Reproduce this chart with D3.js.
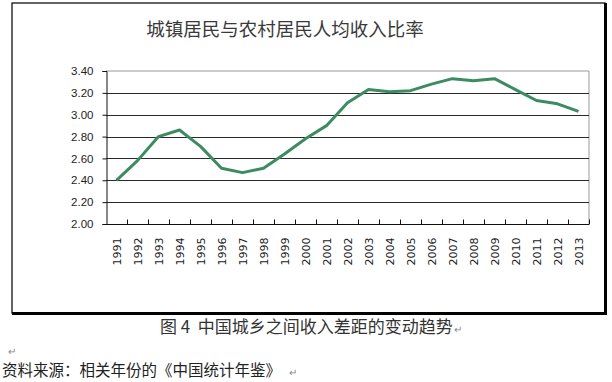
<!DOCTYPE html>
<html><head><meta charset="utf-8">
<script src="https://cdn.jsdelivr.net/npm/d3@7"></script>
<style>body{margin:0;background:#fff}svg{display:block}</style>
</head><body>
<script>
const years = ["1991","1992","1993","1994","1995","1996","1997","1998","1999","2000","2001","2002","2003","2004","2005","2006","2007","2008","2009","2010","2011","2012","2013"];
const ratio = [2.40,2.58,2.80,2.86,2.71,2.51,2.47,2.51,2.64,2.78,2.90,3.11,3.23,3.21,3.22,3.28,3.33,3.31,3.33,3.23,3.13,3.10,3.03];
const yTicks = [2.00,2.20,2.40,2.60,2.80,3.00,3.20,3.40];
const title = "城镇居民与农村居民人均收入比率";
const caption = "图 4  中国城乡之间收入差距的变动趋势";
const source = "资料来源：相关年份的《中国统计年鉴》";

const W = 612, H = 382;
const svg = d3.select("body").append("svg").attr("width", W).attr("height", H);
const cjk = "'Noto Sans CJK SC', sans-serif";

// outer frame
svg.append("rect").attr("x",12).attr("y",3).attr("width",593).attr("height",310)
  .attr("fill","#fff").attr("stroke","#111").attr("stroke-width",1.3);
svg.append("path").attr("d","M605.5,3 V313.5 H12").attr("fill","none").attr("stroke","#000").attr("stroke-width",3);

svg.append("text").attr("x",285).attr("y",36).attr("text-anchor","middle")
  .attr("font-family",cjk).attr("font-size",18.5).attr("fill","#3a3a3a").text(title);

const m = {l:106, r:589, t:71, b:224};
const x = d3.scaleBand().domain(years).range([m.l, m.r]);
const y = d3.scaleLinear().domain([2.0, 3.4]).range([m.b, m.t]);

// plot border (top/right gray)
svg.append("path").attr("d",`M${m.l},${m.t}H${m.r}V${m.b}`).attr("fill","none").attr("stroke","#999").attr("stroke-width",1);

// gridlines
svg.append("g").selectAll("line").data(yTicks.filter(d=>d>2 && d<3.4)).join("line")
  .attr("x1",m.l).attr("x2",m.r).attr("y1",d=>Math.round(y(d))+0.5).attr("y2",d=>Math.round(y(d))+0.5)
  .attr("stroke","#2a2a2a").attr("stroke-width",1);

// y axis
const ya = svg.append("g").attr("transform",`translate(${m.l+0.5},0)`)
  .call(d3.axisLeft(y).tickValues(yTicks).tickFormat(d3.format(".2f")).tickSize(4).tickPadding(9));
ya.select(".domain").attr("stroke","#111");
ya.selectAll(".tick line").attr("stroke","#111");
ya.selectAll("text").attr("font-family","'Liberation Sans', sans-serif").attr("font-size",11.5).attr("fill","#222");

// x axis with ticks at band boundaries
const xa = svg.append("g").attr("transform",`translate(0,${m.b+0.5})`);
xa.append("line").attr("x1",m.l).attr("x2",m.r).attr("stroke","#111");
xa.selectAll("line.tk").data(years).join("line").attr("class","tk")
  .attr("x1",d=>Math.round(x(d)+x.bandwidth())+0.5).attr("x2",d=>Math.round(x(d)+x.bandwidth())+0.5)
  .attr("y1",0).attr("y2",-5).attr("stroke","#111");
xa.selectAll("text").data(years).join("text")
  .attr("transform",d=>`translate(${x(d)+x.bandwidth()/2+4},${13}) rotate(-90)`)
  .attr("text-anchor","end").attr("font-family","'DejaVu Sans', sans-serif").attr("font-size",11).attr("fill","#222")
  .text(d=>d);

// line
const line = d3.line().x((d,i)=>x(years[i])+x.bandwidth()/2).y(d=>y(d));
svg.append("path").datum(ratio).attr("d",line).attr("fill","none")
  .attr("stroke","#3d8b63").attr("stroke-width",3).attr("stroke-linejoin","round");

// caption and source
const cap = svg.append("text").attr("x",160).attr("y",333).attr("font-family",cjk).attr("font-size",17).attr("fill","#333")
  .attr("xml:space","preserve").text(caption);
const capEnd = 160 + cap.node().getComputedTextLength();
svg.append("text").attr("x",capEnd+1).attr("y",333).attr("font-family",cjk).attr("font-size",10).attr("fill","#888").text("↵");
svg.append("text").attr("x",8).attr("y",355).attr("font-family",cjk).attr("font-size",10).attr("fill","#888").text("↵");
const src = svg.append("text").attr("x",2).attr("y",376).attr("font-family",cjk).attr("font-size",15.5).attr("fill","#222").text(source);
const srcEnd = 2 + src.node().getComputedTextLength();
svg.append("text").attr("x",srcEnd+8).attr("y",376).attr("font-family",cjk).attr("font-size",10).attr("fill","#888").text("↵");
</script>
</body></html>
